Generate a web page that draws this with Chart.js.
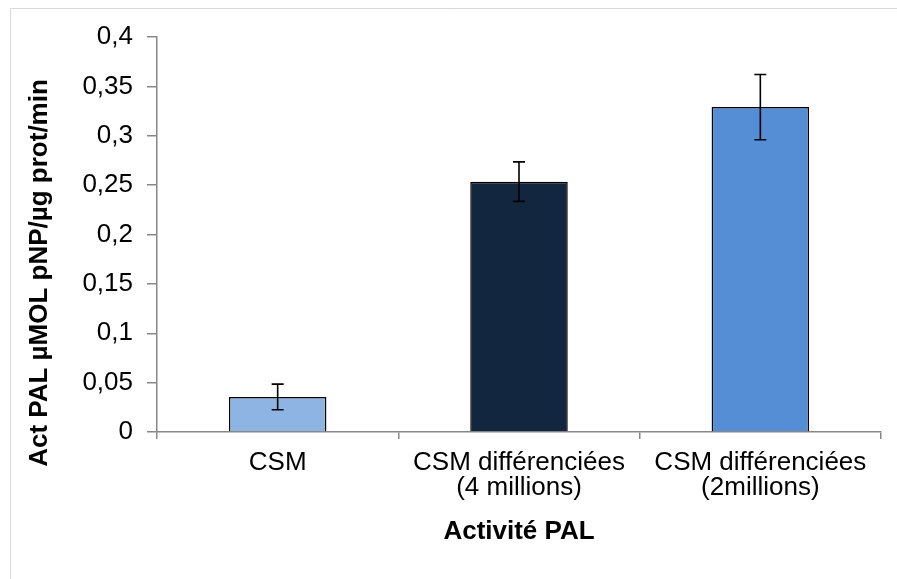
<!DOCTYPE html>
<html>
<head>
<meta charset="utf-8">
<script src="https://cdn.jsdelivr.net/npm/chart.js@4.4.1/dist/chart.umd.min.js"></script>
<style>
body { margin: 0; background: #fff; }
canvas { display: block; }
</style>
</head>
<body>
<canvas id="palchart" width="897" height="579"></canvas>
<script>
// data
var categories = ['CSM', ['CSM différenciées', '(4 millions)'], ['CSM différenciées', '(2millions)']];
var activity = [0.0355, 0.2535, 0.3290];
var errors = [0.0130, 0.0200, 0.0330];
var yTicks = [0, 0.05, 0.1, 0.15, 0.2, 0.25, 0.3, 0.35, 0.4];

var barColors = ['#8EB4E3', '#12263F', '#558ED5'];
var FONT = '"Liberation Sans", Arial, sans-serif';

// error bars drawn on the library's own y scale
var errorBars = {
  id: 'errorBars',
  afterDatasetsDraw: function(chart) {
    var ctx = chart.ctx;
    var y = chart.scales.y;
    var meta = chart.getDatasetMeta(0);
    ctx.save();
    ctx.strokeStyle = '#000';
    ctx.lineWidth = 1.6;
    meta.data.forEach(function(bar, i) {
      var hi = y.getPixelForValue(activity[i] + errors[i]);
      var lo = y.getPixelForValue(activity[i] - errors[i]);
      ctx.beginPath();
      ctx.moveTo(bar.x, hi); ctx.lineTo(bar.x, lo);
      ctx.moveTo(bar.x - 6, hi); ctx.lineTo(bar.x + 6, hi);
      ctx.moveTo(bar.x - 6, lo); ctx.lineTo(bar.x + 6, lo);
      ctx.stroke();
    });
    ctx.restore();
  }
};

// frame + rotated y title
var decor = {
  id: 'decor',
  beforeDraw: function(chart) {
    var ctx = chart.ctx;
    ctx.save();
    ctx.strokeStyle = '#d9d9d9';
    ctx.lineWidth = 1;
    ctx.beginPath();
    ctx.moveTo(10.5, 579); ctx.lineTo(10.5, 8.5); ctx.lineTo(897, 8.5);
    ctx.stroke();
    ctx.restore();
  },
  afterDraw: function(chart) {
    var ctx = chart.ctx;
    ctx.save();
    ctx.translate(40, 273);
    ctx.rotate(-Math.PI / 2);
    ctx.fillStyle = '#000';
    ctx.font = 'bold 26px ' + FONT;
    ctx.textAlign = 'center';
    ctx.textBaseline = 'middle';
    ctx.fillText('Act PAL µMOL pNP/µg prot/min', 0, 0);
    ctx.restore();
  }
};

new Chart(document.getElementById('palchart'), {
  type: 'bar',
  data: {
    labels: categories,
    datasets: [{
      label: 'Activité PAL',
      data: activity,
      backgroundColor: barColors,
      borderColor: '#000',
      borderWidth: 1.5,
      barPercentage: 0.404,
      categoryPercentage: 1
    }]
  },
  options: {
    responsive: false,
    animation: false,
    layout: { padding: { top: 37, right: 16, left: 0, bottom: 0 } },
    plugins: {
      legend: { display: false },
      tooltip: { enabled: false }
    },
    scales: {
      x: {
        afterFit: function(scale) { scale.height = 147; },
        border: { color: '#888', width: 1.5 },
        grid: { display: true, drawOnChartArea: false, offset: true, tickLength: 7, color: '#888', lineWidth: 1.5 },
        ticks: {
          color: '#000',
          padding: 12,
          maxRotation: 0,
          font: { family: FONT, size: 26, lineHeight: 0.94 }
        },
        title: {
          display: true,
          text: 'Activité PAL',
          color: '#000',
          padding: { top: 0, bottom: 32 },
          font: { family: FONT, size: 26, weight: 'bold' }
        }
      },
      y: {
        min: 0,
        max: 0.4,
        afterFit: function(scale) { scale.width = 157; },
        afterBuildTicks: function(scale) {
          scale.ticks = yTicks.map(function(v) { return { value: v }; });
        },
        border: { color: '#888', width: 1.5 },
        grid: { display: true, drawOnChartArea: false, tickLength: 10, color: '#888', lineWidth: 1.5 },
        ticks: {
          color: '#000',
          padding: 14,
          font: { family: FONT, size: 26 },
          callback: function(v) {
            return String(Math.round(v * 100) / 100).replace('.', ',');
          }
        }
      }
    }
  },
  plugins: [errorBars, decor]
});
</script>
</body>
</html>
